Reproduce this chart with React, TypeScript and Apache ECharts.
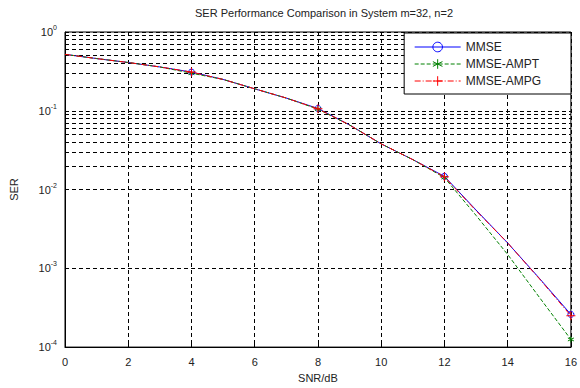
import React, { useEffect, useRef } from "react";
import * as echarts from "echarts";

const snr = [0, 1, 2, 3, 4, 5, 6, 7, 8, 9, 10, 11, 12, 13, 14, 15, 16];
const serMMSE = [0.52, 0.46, 0.41, 0.36, 0.31, 0.25, 0.19, 0.145, 0.107, 0.066, 0.038, 0.024, 0.0147, 0.0055, 0.0021, 0.00075, 0.00026];
const serAMPT = [0.52, 0.46, 0.41, 0.36, 0.3, 0.25, 0.19, 0.145, 0.105, 0.066, 0.038, 0.024, 0.0142, 0.0047, 0.0015, 0.00043, 0.000125];
const serAMPG = [0.52, 0.46, 0.41, 0.36, 0.31, 0.25, 0.19, 0.145, 0.106, 0.066, 0.038, 0.024, 0.0145, 0.0054, 0.0021, 0.00074, 0.00025];
const minorGrid = [1e-4, 1e-3, 1e-2, 1e-1].flatMap((d) => [2, 3, 4, 5, 6, 7, 8, 9].map((m) => m * d));
const seriesNames = ["MMSE", "MMSE-AMPT", "MMSE-AMPG"];

const FONT = "'Liberation Sans', Arial, sans-serif";
const STAR = "path://M5,0L5,10M0.7,2.5L9.3,7.5M0.7,7.5L9.3,2.5";
const PLUS = "path://M5,0L5,10M0,5L10,5";

export default function App() {
  const ref = useRef<HTMLDivElement>(null);
  useEffect(() => {
    if (!ref.current) return;
    const chart = echarts.init(ref.current, null, { renderer: "svg" });
    const mk = (vals: number[], sym: string) =>
      vals.map((v, i) => ({ value: [snr[i], v], symbol: i > 0 && i % 4 === 0 ? sym : "none" }));
    chart.setOption({
      animation: false,
      backgroundColor: "#fff",
      textStyle: { fontFamily: FONT },
      title: {
        text: "SER Performance Comparison in System m=32, n=2",
        left: 319,
        textAlign: "center",
        top: 2,
        textStyle: { fontSize: 11, fontWeight: "normal", color: "#222", fontFamily: FONT },
      },
      grid: { left: 63, right: 4, top: 32, bottom: 33, show: true, borderColor: "#000", borderWidth: 1, backgroundColor: "#fff" },
      legend: {
        orient: "vertical",
        right: 9,
        top: 33,
        backgroundColor: "#fff",
        borderColor: "#000",
        borderWidth: 1,
        borderRadius: 0,
        padding: [8, 30, 7, 10],
        itemWidth: 46,
        itemHeight: 12,
        itemGap: 5,
        lineStyle: { width: 1 },
        itemStyle: { borderWidth: 1 },
        textStyle: { fontSize: 12, color: "#222", fontFamily: FONT },
        data: seriesNames,
      },
      xAxis: {
        type: "value",
        min: 0,
        max: 16,
        interval: 2,
        name: "SNR/dB",
        nameLocation: "middle",
        nameGap: 22,
        nameTextStyle: { fontSize: 11, color: "#222" },
        axisLine: { show: true, lineStyle: { color: "#000" } },
        axisTick: { show: true, inside: true, length: 4, lineStyle: { color: "#000" } },
        axisLabel: { fontSize: 11, color: "#222", margin: 9 },
        splitLine: { show: true, lineStyle: { color: "#000", type: [4, 3], width: 1 } },
      },
      yAxis: {
        type: "log",
        logBase: 10,
        min: 1e-4,
        max: 1,
        name: "SER",
        nameLocation: "middle",
        nameGap: 46,
        nameTextStyle: { fontSize: 11, color: "#222" },
        axisLine: { show: true, lineStyle: { color: "#000" } },
        axisTick: { show: true, inside: true, length: 4, lineStyle: { color: "#000" } },
        axisLabel: {
          margin: 8,
          formatter: (v: number) => `{b|10}{s|${Math.round(Math.log10(v))}}`,
          rich: {
            b: { fontSize: 11, color: "#222", fontFamily: FONT },
            s: { fontSize: 7, color: "#222", fontFamily: FONT, padding: [0, 0, 9, 0] },
          },
        },
        splitLine: { show: true, lineStyle: { color: "#000", type: [4, 3], width: 1 } },
      },
      series: [
        {
          name: seriesNames[0],
          type: "line",
          data: mk(serMMSE, "circle"),
          symbol: "circle",
          symbolSize: 6,
          color: "#0000ff",
          lineStyle: { color: "#0000ff", width: 1 },
          itemStyle: { color: "rgba(0,0,0,0)", borderColor: "#0000ff", borderWidth: 1 },
          z: 3,
          markLine: {
            silent: true,
            symbol: "none",
            label: { show: false },
            lineStyle: { color: "#000", type: [4, 3], width: 1 },
            data: minorGrid.map((y) => ({ yAxis: y })),
            z: 1,
          },
        },
        {
          name: seriesNames[1],
          type: "line",
          data: mk(serAMPT, STAR),
          symbol: STAR,
          symbolSize: 6,
          color: "#008000",
          lineStyle: { color: "#008000", width: 1, type: [4, 2] },
          itemStyle: { color: "rgba(0,0,0,0)", borderColor: "#008000", borderWidth: 1 },
          z: 4,
        },
        {
          name: seriesNames[2],
          type: "line",
          data: mk(serAMPG, PLUS),
          symbol: PLUS,
          symbolSize: 9,
          color: "#ff0000",
          lineStyle: { color: "#ff0000", width: 1, type: [6, 2, 1, 2] },
          itemStyle: { color: "rgba(0,0,0,0)", borderColor: "#ff0000", borderWidth: 1 },
          z: 5,
        },
      ],
    });
    return () => chart.dispose();
  }, []);
  return <div ref={ref} style={{ position: "absolute", left: 0, top: 0, width: 580, height: 388 }} />;
}
